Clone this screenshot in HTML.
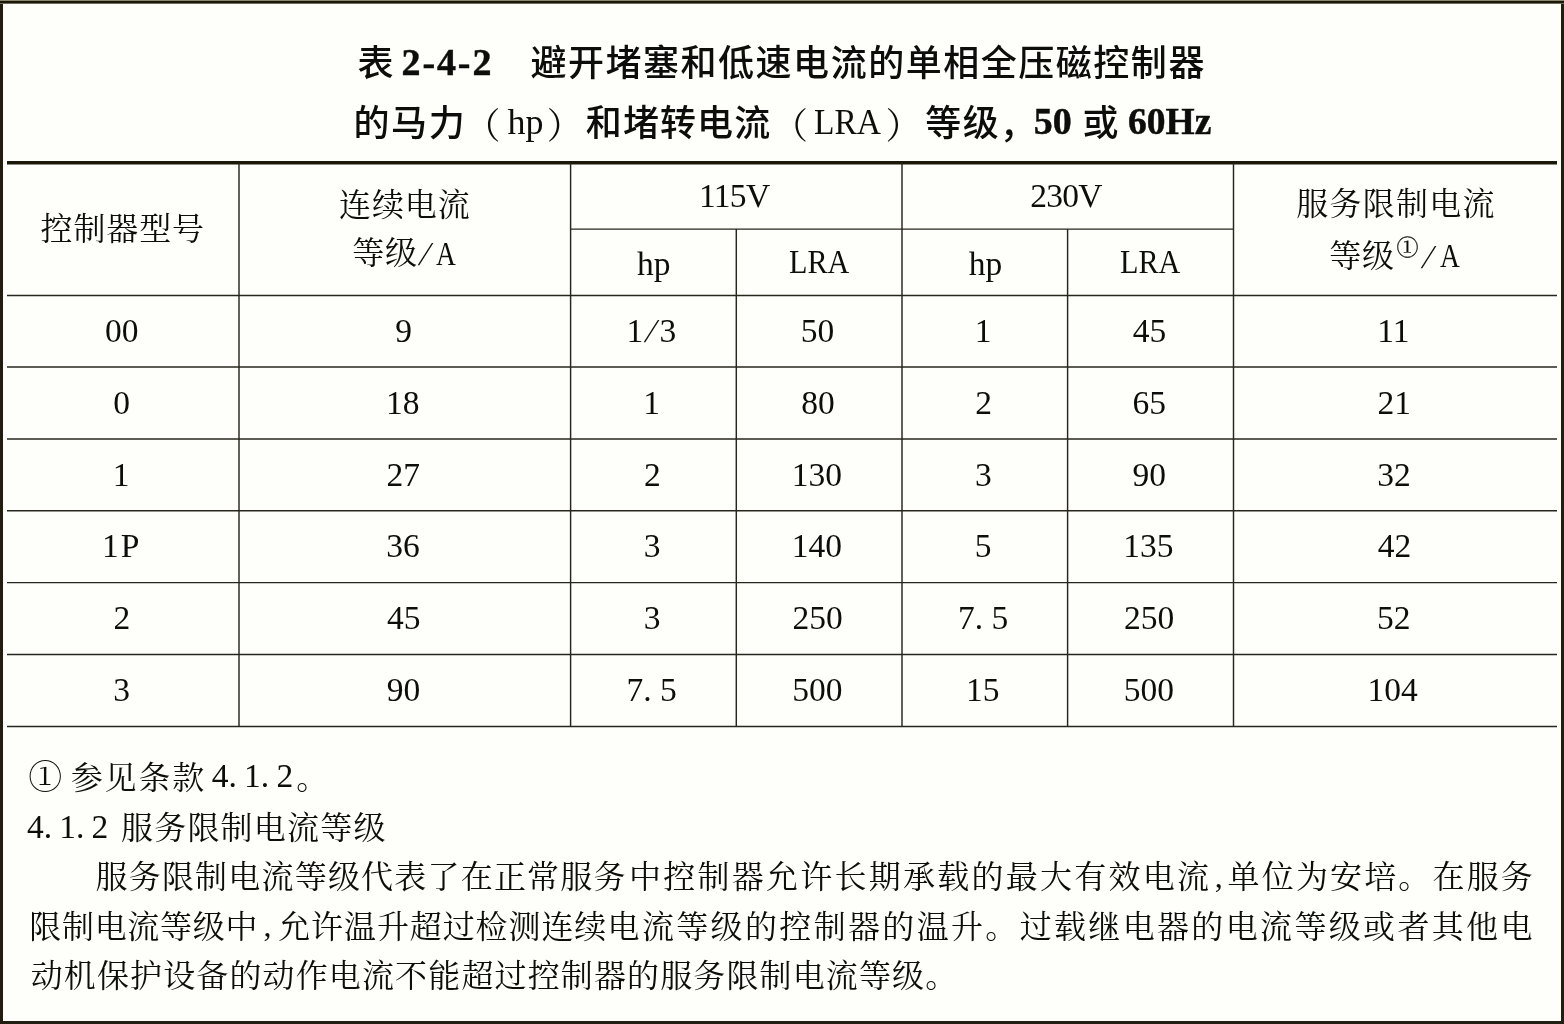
<!DOCTYPE html>
<html lang="zh-CN">
<head>
<meta charset="utf-8">
<title>表 2-4-2</title>
<style>
html,body{margin:0;padding:0;}
body{width:1564px;height:1024px;overflow:hidden;background:#fefefb;position:relative;
  font-family:"Liberation Serif","Noto Serif CJK SC",serif;color:#0d0d0b;}
#frame{position:absolute;left:0;top:0;width:1564px;height:1024px;box-sizing:border-box;
  border-left:3px solid #211c0e;border-right:3px solid #211e12;border-bottom:3px solid #211e12;border-top:0;}
#topg{position:absolute;left:0;top:0;width:1564px;height:1px;background:#8a8672;}
#topd{position:absolute;left:0;top:1px;width:1564px;height:3px;background:linear-gradient(#1c1808 0,#1c1808 2px,#6f6d60 2px,#6f6d60 3px);}
svg#grid{position:absolute;left:0;top:0;}
.t{position:absolute;white-space:nowrap;line-height:40px;height:40px;}
.hei{font-family:"Liberation Serif","Noto Sans CJK SC",sans-serif;font-weight:500;font-size:36px;letter-spacing:1.53px;}
.bn{font-family:"Liberation Serif",serif;font-weight:700;font-size:38px;-webkit-text-stroke:0.45px #0d0d0b;}
.rp{font-size:36px;}
.rl{font-size:36px;}
.h{font-size:32px;letter-spacing:0.9px;}
.d{font-size:33.5px;}
.p{font-size:32px;}
.j{text-align:justify;text-align-last:justify;}
.sx{display:inline-block;transform-origin:0 50%;}

.sk{display:inline-block;transform:skewX(-16deg);}
.fn{font-size:22px;-webkit-text-stroke:0.3px #0d0d0b;}
.sl2{display:inline-block;transform:skewX(-16deg);margin:0 3px 0 4px;}

</style>
</head>
<body>
<div id="frame"></div><div id="topg"></div><div id="topd"></div>
<svg id="grid" width="1564" height="1024" viewBox="0 0 1564 1024">
 <line x1="7" y1="162.8" x2="1557" y2="162.8" stroke="#1b1809" stroke-width="3.6"/>
 <g stroke="#26261c" stroke-width="1.45" fill="none">
  <line x1="570.6" y1="229.1" x2="1233.5" y2="229.1"/>
  <line x1="7" y1="295.5" x2="1557" y2="295.5"/>
  <line x1="7" y1="367" x2="1557" y2="367"/>
  <line x1="7" y1="439" x2="1557" y2="439"/>
  <line x1="7" y1="510.8" x2="1557" y2="510.8"/>
  <line x1="7" y1="582.6" x2="1557" y2="582.6"/>
  <line x1="7" y1="654.5" x2="1557" y2="654.5"/>
  <line x1="7" y1="726.4" x2="1557" y2="726.4"/>
  <line x1="239" y1="163" x2="239" y2="726.4"/>
  <line x1="570.6" y1="163" x2="570.6" y2="726.4"/>
  <line x1="902" y1="163" x2="902" y2="726.4"/>
  <line x1="1233.5" y1="163" x2="1233.5" y2="726.4"/>
  <line x1="736.3" y1="229.1" x2="736.3" y2="726.4"/>
  <line x1="1067.6" y1="229.1" x2="1067.6" y2="726.4"/>
 </g>
</svg>
<div id="title">
<div id="t1a" class="t hei" style="left:357.4px;top:44.0px;">表</div>
<div id="t1b" class="t bn" style="left:401.5px;top:42.4px;letter-spacing:1.9px;">2-4-2</div>
<div id="t1c" class="t hei" style="left:530.4px;top:44.4px;">避开堵塞和低速电流的单相全压磁控制器</div>
<div id="t2a" class="t hei" style="left:353.6px;top:104.4px;">的马力</div>
<div id="t2b" class="t rp" style="left:464.5px;top:107.3px;">（</div>
<div id="t2c" class="t rl" style="left:507.4px;top:102.4px;">hp</div>
<div id="t2d" class="t rp" style="left:546.8px;top:106.9px;">）</div>
<div id="t2e" class="t hei" style="left:585.8px;top:103.8px;letter-spacing:1.1px;">和堵转电流</div>
<div id="t2f" class="t rp" style="left:772.0px;top:106.6px;">（</div>
<div id="t2g" class="t rl" style="left:814.0px;top:102.2px;"><span class="sx" style="transform:scaleX(.93)">LRA</span></div>
<div id="t2h" class="t rp" style="left:885.6px;top:107.3px;">）</div>
<div id="t2i" class="t hei" style="left:925.3px;top:104.0px;">等级</div>
<div id="t2i2" class="t hei" style="left:999.7px;top:105.7px;">，</div>
<div id="t2j" class="t bn" style="left:1033.8px;top:100.8px;">50</div>
<div id="t2k" class="t hei" style="left:1082.5px;top:104.0px;">或</div>
<div id="t2l" class="t bn" style="left:1128.0px;top:101.8px;font-size:37.5px;">60Hz</div>
</div>
<div id="thead">
<div id="h1" class="t h" style="left:40.5px;top:208.8px;">控制器型号</div>
<div id="h2a" class="t h" style="left:339.0px;top:184.8px;">连续电流</div>
<div id="h2b" class="t h" style="left:352.2px;top:232.6px;">等级</div>
<div id="h2c" class="t d" style="left:420.7px;top:234.0px;"><span class="sk">/</span></div>
<div id="h2d" class="t d" style="left:436.3px;top:234.3px;"><span class="sx" style="transform:scaleX(.82)">A</span></div>
<div id="h3" class="t d" style="left:699.0px;top:176.2px;letter-spacing:-0.7px;">115V</div>
<div id="h4" class="t d" style="left:1030.2px;top:176.2px;letter-spacing:-0.7px;">230V</div>
<div id="h5" class="t d" style="left:637.1px;top:244.0px;">hp</div>
<div id="h6" class="t d" style="left:789.0px;top:242.0px;"><span class="sx" style="transform:scaleX(.90)">LRA</span></div>
<div id="h7" class="t d" style="left:968.7px;top:244.0px;">hp</div>
<div id="h8" class="t d" style="left:1120.0px;top:242.0px;"><span class="sx" style="transform:scaleX(.90)">LRA</span></div>
<div id="h9a" class="t h" style="left:1296.2px;top:183.9px;letter-spacing:1.25px;">服务限制电流</div>
<div id="h9b" class="t h" style="left:1329.2px;top:235.7px;">等级</div>
<div id="h9c" class="t fn" style="left:1396.5px;top:228.2px;">①</div>
<div id="h9d" class="t d" style="left:1424.2px;top:237.4px;"><span class="sk">/</span></div>
<div id="h9e" class="t d" style="left:1440.3px;top:235.7px;"><span class="sx" style="transform:scaleX(.82)">A</span></div>
</div>
<div id="tbody">
<div id="r0c0" class="t d" style="left:105.0px;top:310.8px;">00</div>
<div id="r0c1" class="t d" style="left:395.3px;top:311.2px;">9</div>
<div id="r0c2" class="t d" style="left:626.5px;top:310.6px;">1<span class="sl2">/</span>3</div>
<div id="r0c3" class="t d" style="left:800.8px;top:311.2px;">50</div>
<div id="r0c4" class="t d" style="left:974.7px;top:311.0px;">1</div>
<div id="r0c5" class="t d" style="left:1132.8px;top:311.2px;">45</div>
<div id="r0c6" class="t d" style="left:1377.3px;top:311.2px;">11</div>
<div id="r1c0" class="t d" style="left:113.2px;top:382.8px;">0</div>
<div id="r1c1" class="t d" style="left:386.0px;top:382.8px;">18</div>
<div id="r1c2" class="t d" style="left:643.2px;top:383.2px;">1</div>
<div id="r1c3" class="t d" style="left:801.2px;top:382.8px;">80</div>
<div id="r1c4" class="t d" style="left:975.2px;top:382.8px;">2</div>
<div id="r1c5" class="t d" style="left:1132.5px;top:382.8px;">65</div>
<div id="r1c6" class="t d" style="left:1377.5px;top:382.8px;">21</div>
<div id="r2c0" class="t d" style="left:112.7px;top:455.2px;">1</div>
<div id="r2c1" class="t d" style="left:386.5px;top:455.2px;">27</div>
<div id="r2c2" class="t d" style="left:644.0px;top:455.2px;">2</div>
<div id="r2c3" class="t d" style="left:791.7px;top:455.2px;">130</div>
<div id="r2c4" class="t d" style="left:975.0px;top:455.2px;">3</div>
<div id="r2c5" class="t d" style="left:1132.5px;top:455.2px;">90</div>
<div id="r2c6" class="t d" style="left:1377.3px;top:455.2px;">32</div>
<div id="r3c0" class="t d" style="left:102.1px;top:526.0px;">1<span style="margin-left:2px">P</span></div>
<div id="r3c1" class="t d" style="left:386.3px;top:526.0px;">36</div>
<div id="r3c2" class="t d" style="left:643.7px;top:526.0px;">3</div>
<div id="r3c3" class="t d" style="left:791.7px;top:526.0px;">140</div>
<div id="r3c4" class="t d" style="left:974.7px;top:526.0px;">5</div>
<div id="r3c5" class="t d" style="left:1123.2px;top:526.0px;">135</div>
<div id="r3c6" class="t d" style="left:1377.8px;top:526.0px;">42</div>
<div id="r4c0" class="t d" style="left:113.5px;top:597.8px;">2</div>
<div id="r4c1" class="t d" style="left:387.0px;top:597.8px;">45</div>
<div id="r4c2" class="t d" style="left:643.7px;top:597.8px;">3</div>
<div id="r4c3" class="t d" style="left:792.6px;top:597.8px;">250</div>
<div id="r4c4" class="t d" style="left:958.0px;top:597.8px;">7. 5</div>
<div id="r4c5" class="t d" style="left:1124.0px;top:597.8px;">250</div>
<div id="r4c6" class="t d" style="left:1377.1px;top:597.8px;">52</div>
<div id="r5c0" class="t d" style="left:113.3px;top:669.6px;">3</div>
<div id="r5c1" class="t d" style="left:386.8px;top:670.2px;">90</div>
<div id="r5c2" class="t d" style="left:626.5px;top:669.5px;">7. 5</div>
<div id="r5c3" class="t d" style="left:792.3px;top:669.8px;">500</div>
<div id="r5c4" class="t d" style="left:966.0px;top:669.5px;">15</div>
<div id="r5c5" class="t d" style="left:1123.7px;top:669.5px;">500</div>
<div id="r5c6" class="t d" style="left:1367.5px;top:669.5px;">104</div>
</div>
<div id="notes">
<div id="f1a" class="t p" style="left:28.2px;top:758.2px;font-size:34px;">①</div>
<div id="f1b" class="t p" style="left:70.8px;top:757.8px;letter-spacing:1.80px;">参见条款</div>
<div id="f1c" class="t d" style="left:211.8px;top:755.8px;word-spacing:-1.2px;">4. 1. 2</div>
<div id="f1d" class="t p" style="left:296.2px;top:758.2px;">。</div>
<div id="f2a" class="t d" style="left:26.9px;top:807.0px;word-spacing:-1.2px;">4. 1. 2</div>
<div id="f2b" class="t p" style="left:121.0px;top:807.8px;letter-spacing:1.20px;">服务限制电流等级</div>
<div id="f3a" class="t p" style="left:95.5px;top:857.2px;letter-spacing:1.20px;">服务限制电流等级代表了在正常服务</div>
<div id="f3b" class="t p" style="left:629.1px;top:857.2px;letter-spacing:2.25px;">中控制器允许长期承载的最大有效电流</div>
<div id="f3c" class="t p" style="left:1214.7px;top:856.4px;">,</div>
<div id="f3d" class="t p" style="left:1227.6px;top:857.2px;letter-spacing:2.15px;">单位为安培。在服务</div>
<div id="f4a" class="t p" style="left:29.2px;top:907.0px;letter-spacing:0.72px;">限制电流等级中</div>
<div id="f4b" class="t p" style="left:263.4px;top:905.0px;">,</div>
<div id="f4c" class="t p" style="left:278.2px;top:907.0px;letter-spacing:0.90px;">允许温升超过检测连续</div>
<div id="f4d" class="t p" style="left:607.6px;top:907.0px;letter-spacing:2.34px;">电流等级的控制器的温升。过载继电器的电流等级或者其他电</div>
<div id="f5" class="t p" style="left:30.7px;top:956.2px;letter-spacing:1.13px;">动机保护设备的动作电流不能超过控制器的服务限制电流等级。</div>
</div>
</body>
</html>
